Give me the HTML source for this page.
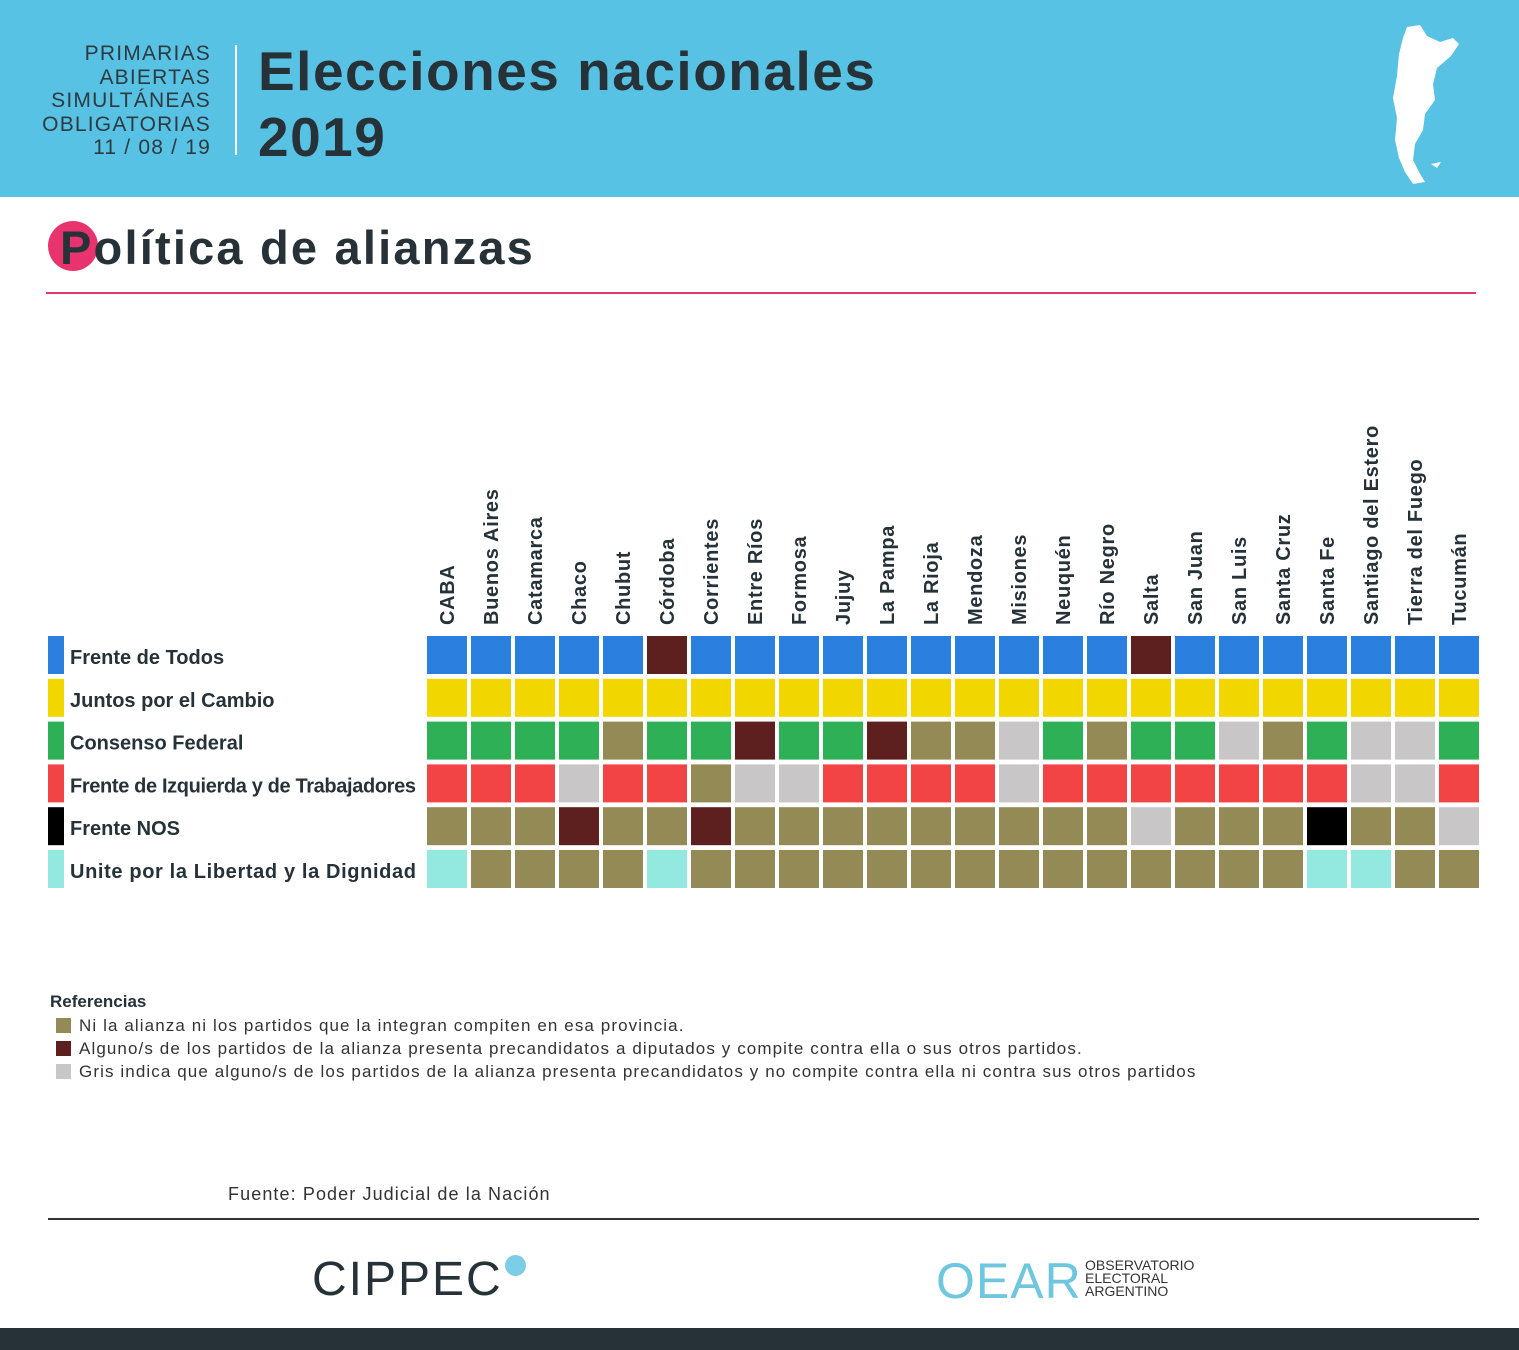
<!DOCTYPE html>
<html><head><meta charset="utf-8"><style>
body{margin:0;width:1519px;height:1350px;position:relative;background:#fff;font-family:"Liberation Sans",sans-serif;color:#263238;overflow:hidden}
.abs{position:absolute}
</style></head><body>
<div class="abs" style="left:0;top:0;width:1519px;height:197px;background:#58c2e4"></div>
<div class="abs" style="right:1308px;top:42px;text-align:right;font-size:21px;line-height:23.5px;color:#2e3a40;letter-spacing:1.2px">PRIMARIAS<br>ABIERTAS<br>SIMULTÁNEAS<br>OBLIGATORIAS<br>11 / 08 / 19</div>
<div class="abs" style="left:235px;top:45px;width:2px;height:110px;background:#fff"></div>
<div class="abs" style="left:258px;top:38px;font-size:55px;font-weight:bold;line-height:66px;color:#263238;letter-spacing:1.5px">Elecciones nacionales<br>2019</div>
<svg class="abs" style="left:1385px;top:22px" width="80" height="165" viewBox="0 0 80 165"><path d="M22 5 L35 3 L42 14 L55 20 L68 16 L74 22 L66 34 L52 46 L48 62 L50 78 L40 92 L38 108 L30 122 L28 138 L34 150 L40 160 L28 162 L20 150 L14 136 L10 118 L12 96 L8 76 L12 54 L14 32 L18 16 Z" fill="#fff"/><path d="M46 142 L56 140 L52 146 Z" fill="#fff"/></svg>
<div class="abs" style="left:48px;top:221px;width:50px;height:50px;border-radius:50%;background:#e8336f"></div>
<div class="abs" style="left:60px;top:220px;font-size:47px;font-weight:bold;color:#263238;letter-spacing:2.2px">Política de alianzas</div>
<div class="abs" style="left:46px;top:292px;width:1430px;height:2px;background:#e8336f"></div>
<svg class="abs" id="chart" style="left:0;top:300px" width="1519" height="620"></svg>
<div class="abs" style="left:50px;top:992px;font-size:17px;font-weight:bold">Referencias</div>
<div class="abs" style="left:56px;top:1014px;font-size:17px;line-height:23px;color:#333;letter-spacing:1.1px;white-space:nowrap">
<div><span style="display:inline-block;width:15px;height:15px;background:#948a55;margin-right:8px;vertical-align:-2px"></span>Ni la alianza ni los partidos que la integran compiten en esa provincia.</div>
<div><span style="display:inline-block;width:15px;height:15px;background:#5e1f1f;margin-right:8px;vertical-align:-2px"></span>Alguno/s de los partidos de la alianza presenta precandidatos a diputados y compite contra ella o sus otros partidos.</div>
<div><span style="display:inline-block;width:15px;height:15px;background:#c8c6c6;margin-right:8px;vertical-align:-2px"></span>Gris indica que alguno/s de los partidos de la alianza presenta precandidatos y no compite contra ella ni contra sus otros partidos</div>
</div>
<div class="abs" style="left:228px;top:1184px;font-size:18px;color:#333;letter-spacing:1.1px">Fuente: Poder Judicial de la Nación</div>
<div class="abs" style="left:48px;top:1218px;width:1431px;height:2px;background:#333"></div>
<div class="abs" style="left:312px;top:1252px;font-size:48px;color:#263238;letter-spacing:2px">CIPPEC</div>
<div class="abs" style="left:505px;top:1255px;width:21px;height:21px;border-radius:50%;background:#7ccde6"></div>
<div class="abs" style="left:936px;top:1252px;font-size:50px;color:#6ec6df;letter-spacing:1px">OEAR</div>
<div class="abs" style="left:1085px;top:1259px;font-size:14px;line-height:13px;color:#333">OBSERVATORIO<br>ELECTORAL<br>ARGENTINO</div>
<div class="abs" style="left:0;top:1328px;width:1519px;height:22px;background:#263238"></div>
<script>
const provinces=["CABA","Buenos Aires","Catamarca","Chaco","Chubut","Córdoba","Corrientes","Entre Ríos","Formosa","Jujuy","La Pampa","La Rioja","Mendoza","Misiones","Neuquén","Río Negro","Salta","San Juan","San Luis","Santa Cruz","Santa Fe","Santiago del Estero","Tierra del Fuego","Tucumán"];
const alliances=["Frente de Todos","Juntos por el Cambio","Consenso Federal","Frente de Izquierda y de Trabajadores","Frente NOS","Unite por la Libertad y la Dignidad"];
const allianceColors=["#2a7fdf","#f2d600","#2eb057","#f24444","#000000","#93e9e0"];
const rowFdT="PPPPPDPPPPPPPPPPDPPPPPPP";
const rowJxC="PPPPPPPPPPPPPPPPPPPPPPPP";
const rowCF ="PPPPOPPDPPDOOGPOPPGOPGGP";
const rowFIT="PPPGPPOGGPPPPGPPPPPPPGGP";
const rowNOS="OOODOODOOOOOOOOOGOOOPOOG";
const rowULD="POOOOPOOOOOOOOOOOOOOPPOO";
const rows=[rowFdT,rowJxC,rowCF,rowFIT,rowNOS,rowULD];
const statusColors={O:"#948a55",D:"#5e1f1f",G:"#c8c6c6"};
const svg=document.getElementById('chart');
const NS="http://www.w3.org/2000/svg";
const x0=427,colStep=44,cellW=40,y0=336,rowStep=42.8,cellH=38;
const xPos=i=>x0+i*colStep;
const yPos=j=>y0+j*rowStep;
provinces.forEach((p,i)=>{
  const t=document.createElementNS(NS,'text');
  
  
  const cx=xPos(i)+cellW/2+7, cy=325;
  t.setAttribute('transform',`translate(${cx},${cy}) rotate(-90)`);
  t.setAttribute('font-size','20');t.setAttribute('font-weight','bold');t.setAttribute('fill','#263238');
  t.setAttribute('letter-spacing','0.7');
  t.setAttribute('font-family','Liberation Sans, sans-serif');
  t.textContent=p;svg.appendChild(t);
});
alliances.forEach((a,j)=>{
  const r=document.createElementNS(NS,'rect');
  
  
  r.setAttribute('x',48);r.setAttribute('y',yPos(j));r.setAttribute('width',16);r.setAttribute('height',cellH);
  r.setAttribute('fill',allianceColors[j]);svg.appendChild(r);
  const t=document.createElementNS(NS,'text');
  
  
  t.setAttribute('x',70);t.setAttribute('y',yPos(j)+cellH/2+9);
  t.setAttribute('font-size','20');t.setAttribute('font-weight','bold');t.setAttribute('fill','#263238');
  t.setAttribute('font-family','Liberation Sans, sans-serif');
  if(j===3||j===5)t.setAttribute('textLength',346);
  t.textContent=a;svg.appendChild(t);
  provinces.forEach((p,i)=>{
    const c=rows[j][i];
    const cell=document.createElementNS(NS,'rect');
    
    
    cell.setAttribute('x',xPos(i));cell.setAttribute('y',yPos(j));
    cell.setAttribute('width',cellW);cell.setAttribute('height',cellH);
    cell.setAttribute('fill',c==='P'?allianceColors[j]:statusColors[c]);
    svg.appendChild(cell);
  });
});
</script>
</body></html>
